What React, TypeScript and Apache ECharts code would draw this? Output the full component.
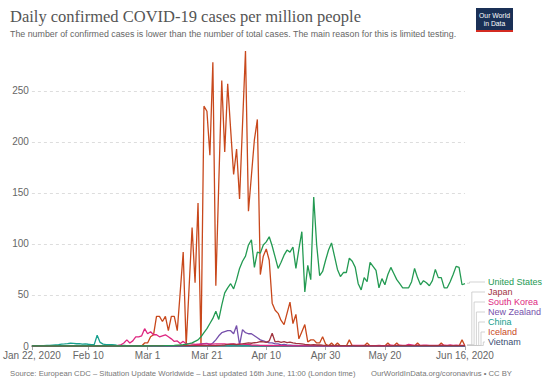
import React, { useEffect, useRef } from "react";
import * as echarts from "echarts";

// ---- axis / tick data ----
const startYear = 2020;
const dayCount = 147; // Jan 22 .. Jun 16, 2020
const tickIndex = [0, 19, 39, 59, 79, 99, 119, 146];
const tickLabels = ["Jan 22, 2020", "Feb 10", "Mar 1", "Mar 21", "Apr 10", "Apr 30", "May 20", "Jun 16, 2020"];
const yMax = 290;
const yInterval = 50;

// ---- series (daily confirmed cases per million), one value per day from Jan 22 ----
const countries = ["United States", "Japan", "South Korea", "New Zealand", "China", "Iceland", "Vietnam"];
const countryColors = ["#239a52", "#a1343f", "#de2680", "#7650ab", "#16a08e", "#c8481c", "#3c4d70"];

const unitedStates = [
  0, 0, 0, 0, 0, 0, 0, 0, 0, 0,
  0, 0, 0, 0, 0, 0, 0, 0, 0, 0,
  0, 0, 0, 0, 0, 0, 0, 0, 0, 0,
  0, 0, 0, 0, 0, 0, 0, 0, 0, 0,
  0.1, 0.1, 0.1, 0.2, 0.2, 0.3, 0.3, 0.4, 0.6, 0.9,
  1.0, 1.3, 1.7, 2.3, 3.0, 4.5, 6, 9, 13, 17,
  22, 27, 34, 26, 40, 52, 57, 61, 56, 65,
  76, 83, 88, 99, 104, 77, 92, 91, 99, 102,
  107, 98, 87, 76, 82, 89, 94, 92, 97, 76,
  95, 112, 53, 79, 65, 146, 99, 69, 73, 84,
  94, 101, 88, 75, 68, 72, 72, 86, 83, 77,
  61, 55, 67, 63, 82, 78, 74, 57, 66, 60,
  70, 77, 71, 65, 61, 57, 57, 57, 63, 76,
  67, 60, 64, 62, 59, 64, 75, 67, 67, 57,
  57, 63, 70, 78, 77, 60, 61,
];

const japan = [
  0, 0, 0, 0, 0, 0, 0, 0, 0, 0,
  0, 0, 0, 0, 0, 0, 0, 0, 0, 0,
  0, 0, 0.01, 0.01, 0.02, 0.01, 0.02, 0.03, 0.05, 0.1,
  0.1, 0.1, 0.1, 0.1, 0.1, 0.15, 0.2, 0.15, 0.2, 0.1,
  0.1, 0.3, 0.3, 0.2, 0.3, 0.4, 0.3, 0.4, 0.4, 0.3,
  0.5, 0.4, 0.5, 0.3, 0.5, 0.3, 0.4, 0.3, 0.5, 0.3,
  0.3, 0.4, 0.5, 0.7, 0.8, 1.0, 1.5, 1.6, 1.7, 1.4,
  1.8, 2.0, 2.6, 3.0, 2.7, 3.2, 3.6, 4.4, 4.0, 3.6,
  5.0, 12.5, 4.0, 4.5, 3.5, 4.3, 3.3, 3.7, 3.0, 2.5,
  2.3, 2.0, 1.5, 1.4, 1.2, 1.4, 1.0, 1.1, 0.8, 0.7,
  0.6, 0.5, 0.4, 0.5, 0.3, 0.3, 0.4, 0.3, 0.3, 0.2,
  0.2, 0.2, 0.3, 0.2, 0.1, 0.2, 0.1, 0.2, 0.1, 0.1,
  0.2, 0.2, 0.3, 0.3, 0.3, 0.4, 0.3, 0.4, 0.3, 0.3,
  0.3, 0.4, 0.4, 0.3, 0.3, 0.3, 0.3, 0.4, 0.3, 0.4,
  0.4, 0.3, 0.4, 0.4, 0.3, 0.3, 0.4,
];

const southKorea = [
  0, 0, 0, 0, 0, 0, 0, 0, 0, 0,
  0, 0, 0, 0, 0, 0, 0, 0, 0, 0,
  0, 0, 0, 0, 0, 0, 0, 0, 0.2, 0.6,
  1.2, 3, 6, 3, 5, 9, 9, 10, 17, 12,
  14, 11, 11, 9, 10, 11, 9, 7, 4.5, 5,
  2.5, 4.5, 2.2, 2, 2, 1.5, 1.8, 1.7, 2, 2,
  2, 1.9, 2, 2, 2.1, 2, 1.5, 2, 2, 1.5,
  1.8, 1.9, 1.6, 1.5, 1.0, 0.9, 0.8, 0.7, 0.6, 0.5,
  0.6, 0.5, 0.4, 0.5, 0.3, 0.4, 0.2, 0.2, 0.2, 0.2,
  0.2, 0.2, 0.1, 0.2, 0.2, 0.2, 0.2, 0.1, 0.1, 0.1,
  0.1, 0.1, 0.2, 0.1, 0.1, 0.1, 0.1, 0.1, 0.7, 0.6,
  0.5, 0.7, 0.6, 0.3, 0.3, 0.4, 0.4, 0.5, 0.4, 0.3,
  0.6, 0.8, 0.6, 0.7, 0.8, 0.6, 0.7, 1.5, 1.2, 0.7,
  0.8, 0.7, 0.8, 0.9, 0.7, 0.6, 0.7, 0.7, 0.8, 0.8,
  0.6, 1.0, 0.7, 0.8, 0.7, 0.7, 0.7,
];

const newZealand = [
  0, 0, 0, 0, 0, 0, 0, 0, 0, 0,
  0, 0, 0, 0, 0, 0, 0, 0, 0, 0,
  0, 0, 0, 0, 0, 0, 0, 0, 0, 0,
  0, 0, 0, 0, 0, 0, 0, 0, 0.2, 0,
  0, 0, 0.2, 0, 0, 0, 0, 0, 0, 0.2,
  0, 0.2, 0.4, 0, 0.6, 0.8, 1.2, 2, 2.4, 2.5,
  1, 3, 6, 10, 13, 14, 15, 15, 12, 20,
  1, 16, 13, 12, 12, 10, 8, 6, 5, 4,
  3, 3, 2, 2, 1, 1.5, 1, 0.8, 0.5, 0.6,
  0.4, 0.6, 0.2, 0.1, 0.2, 0.1, 0.1, 0.2, 0, 0,
  0, 0.2, 0, 0, 0, 0, 0, 0, 0, 0,
  0, 0, 0, 0, 0, 0, 0, 0, 0, 0,
  0, 0, 0, 0, 0, 0, 0, 0, 0, 0,
  0, 0, 0, 0, 0, 0, 0, 0, 0, 0,
  0, 0, 0, 0, 0, 0, 0,
];

const china = [
  0.1, 0.1, 0.1, 0.2, 0.3, 0.5, 0.7, 0.9, 1.1, 1.3,
  1.8, 2.0, 2.25, 2.7, 2.6, 2.2, 2.4, 1.8, 2.1, 1.7,
  1.4, 1.3, 10.5, 3.5, 1.8, 1.4, 1.4, 1.3, 1.2, 0.3,
  0.6, 0.6, 0.45, 0.3, 0.3, 0.3, 0.3, 0.15, 0.3, 0.2,
  0.15, 0.15, 0.1, 0.08, 0.1, 0.1, 0.05, 0.03, 0.03, 0.02,
  0.02, 0.01, 0.01, 0.02, 0.02, 0.02, 0.03, 0.03, 0.04, 0.05,
  0.05, 0.06, 0.04, 0.05, 0.06, 0.04, 0.03, 0.02, 0.04, 0.04,
  0.03, 0.02, 0.03, 0.04, 0.03, 0.02, 0.05, 0.06, 0.07, 0.08,
  0.07, 0.05, 0.06, 0.06, 0.03, 0.02, 0.02, 0.02, 0.02, 0.01,
  0.01, 0.01, 0.01, 0.01, 0.01, 0.01, 0.01, 0.01, 0.01, 0.01,
  0.01, 0.01, 0.01, 0.01, 0.01, 0.01, 0.02, 0.01, 0.01, 0.01,
  0.01, 0.01, 0.01, 0.01, 0, 0, 0.01, 0, 0, 0.01,
  0, 0.01, 0, 0, 0, 0, 0, 0, 0, 0,
  0, 0, 0, 0, 0, 0.03, 0.03, 0.02, 0.02, 0.02,
  0.02, 0.01, 0.01, 0.01, 0.01, 0.01, 0.01,
];

const iceland = [
  0, 0, 0, 0, 0, 0, 0, 0, 0, 0,
  0, 0, 0, 0, 0, 0, 0, 0, 0, 0,
  0, 0, 0, 0, 0, 0, 0, 0, 0, 0,
  0, 0, 0, 0, 0, 0, 0, 0, 3, 3,
  9, 11, 29, 29, 24, 29, 15, 29, 29, 15,
  53, 92, 0, 58, 116, 62, 140, 0, 235, 230,
  187, 278, 59, 160, 260, 190, 257, 212, 168, 193,
  144, 217, 289, 132, 167, 202, 222, 70, 88, 95,
  84, 42, 35, 32, 25, 21, 32, 43, 22, 31,
  7, 14, 21, 4, 6, 6, 3, 3, 9, 2,
  0, 3, 0, 3, 0, 0, 0, 6, 0, 0,
  0, 0, 0, 3, 0, 0, 0, 0, 0, 0,
  3, 0, 0, 3, 0, 0, 0, 0, 0, 0,
  3, 0, 0, 0, 0, 0, 0, 0, 3, 0,
  0, 0, 0, 0, 0, 6, 0,
];

const vietnam = [
  0, 0, 0, 0, 0, 0, 0, 0, 0, 0,
  0, 0, 0, 0, 0, 0, 0, 0, 0, 0,
  0, 0, 0, 0, 0, 0, 0, 0, 0, 0,
  0, 0, 0, 0, 0, 0, 0, 0, 0, 0,
  0, 0, 0, 0, 0, 0, 0, 0, 0, 0,
  0, 0, 0, 0, 0, 0, 0.1, 0.2, 0.1, 0.2,
  0.1, 0.3, 0.2, 0.2, 0.1, 0.2, 0.2, 0.1, 0.1, 0.1,
  0.1, 0.05, 0.05, 0.05, 0.02, 0.02, 0, 0, 0, 0,
  0, 0, 0, 0, 0, 0, 0, 0, 0, 0,
  0, 0, 0, 0, 0, 0, 0, 0, 0, 0,
  0, 0, 0, 0, 0, 0, 0, 0, 0, 0,
  0, 0, 0, 0, 0, 0, 0, 0, 0, 0,
  0, 0, 0, 0, 0, 0, 0, 0, 0, 0,
  0, 0, 0, 0, 0, 0, 0, 0, 0, 0,
  0, 0, 0, 0, 0, 0, 0,
];

const seriesValues = [unitedStates, japan, southKorea, newZealand, china, iceland, vietnam];

const titleText = "Daily confirmed COVID-19 cases per million people";
const subtitleText =
  "The number of confirmed cases is lower than the number of total cases. The main reason for this is limited testing.";
const sourceText =
  "Source: European CDC – Situation Update Worldwide – Last updated 16th June, 11:00 (London time)";
const creditText = "OurWorldInData.org/coronavirus • CC BY";

const SANS = "'Liberation Sans', Arial, sans-serif";
const SERIF = "'Liberation Serif', 'Times New Roman', serif";

function buildDates(): string[] {
  const out: string[] = [];
  for (let i = 0; i < dayCount; i++) {
    const d = new Date(Date.UTC(startYear, 0, 22 + i));
    out.push(d.toISOString().slice(0, 10));
  }
  return out;
}

export default function App() {
  const ref = useRef<HTMLDivElement>(null);

  useEffect(() => {
    document.body.style.margin = "0";
    if (!ref.current) return;
    const chart = echarts.init(ref.current, undefined, { renderer: "svg" });
    const dates = buildDates();

    const staticGraphics: any[] = [
      {
        type: "text",
        left: 10,
        top: 8,
        style: { text: titleText, font: `16.5px ${SERIF}`, fill: "#555" },
      },
      {
        type: "text",
        left: 10,
        top: 29,
        style: { text: subtitleText, font: `8.85px ${SANS}`, fill: "#666" },
      },
      {
        type: "group",
        left: 476,
        top: 8,
        children: [
          { type: "rect", shape: { x: 0, y: 0, width: 37, height: 24 }, style: { fill: "#1a3056" } },
          { type: "rect", shape: { x: 0, y: 22, width: 37, height: 2 }, style: { fill: "#d42b21" } },
          {
            type: "text",
            x: 18.5,
            y: 7,
            style: { text: "Our World", font: `6.8px ${SANS}`, fill: "#fff", align: "center", verticalAlign: "middle" },
          },
          {
            type: "text",
            x: 18.5,
            y: 15,
            style: { text: "in Data", font: `6.8px ${SANS}`, fill: "#fff", align: "center", verticalAlign: "middle" },
          },
        ],
      },
      {
        type: "text",
        left: 10,
        top: 369,
        style: { text: sourceText, font: `7.7px ${SANS}`, fill: "#777" },
      },
      {
        type: "text",
        right: 38,
        top: 369,
        style: { text: creditText, font: `7.7px ${SANS}`, fill: "#777" },
      },
    ];

    const option: any = {
      animation: false,
      backgroundColor: "#fff",
      grid: { left: 30, right: 85, top: 50, bottom: 42, containLabel: false },
      xAxis: {
        type: "category",
        data: dates,
        boundaryGap: false,
        axisLine: { lineStyle: { color: "#aaa", width: 1 } },
        axisTick: {
          show: true,
          interval: (i: number) => tickIndex.includes(i),
          length: 4,
          lineStyle: { color: "#aaa" },
        },
        axisLabel: {
          interval: (i: number) => tickIndex.includes(i),
          formatter: (_v: string, i: number) => {
            const k = tickIndex.indexOf(i);
            return k >= 0 ? tickLabels[k] : "";
          },
          color: "#666",
          fontSize: 10,
          fontFamily: SANS,
          margin: 4,
        },
        splitLine: { show: false },
      },
      yAxis: {
        type: "value",
        min: 0,
        max: yMax,
        interval: yInterval,
        axisLine: { show: false },
        axisTick: { show: false },
        axisLabel: {
          color: "#666",
          fontSize: 10,
          fontFamily: SANS,
          margin: 3,
          showMaxLabel: false,
          formatter: (v: number) => (v % yInterval === 0 ? String(v) : ""),
        },
        splitLine: {
          show: true,
          showMaxLine: false,
          lineStyle: { color: "#ddd", type: [3, 3], width: 1 },
        },
      },
      series: countries
        .map((name, i) => ({
          name,
          type: "line",
          data: seriesValues[i],
          showSymbol: false,
          symbol: "none",
          lineStyle: { color: countryColors[i], width: 1.3 },
          itemStyle: { color: countryColors[i] },
          z: 2 + (countries.length - i),
        }))
        .reverse(),
      graphic: staticGraphics,
    };

    chart.setOption(option);

    // end-of-line labels with connectors, placed from the library's own scale
    const lastIdx = dayCount - 1;
    const ends = seriesValues.map((arr) => chart.convertToPixel({ gridIndex: 0 }, [lastIdx, arr[lastIdx]]) as number[]);
    const bottomLimit = 342;
    const labelY: number[] = [];
    let prev = Infinity;
    for (let i = countries.length - 1; i >= 0; i--) {
      const y = Math.min(ends[i][1] - 1.5, prev - 10, bottomLimit);
      labelY[i] = y;
      prev = y;
    }
    const labelX = ends[0][0] + 23;
    const legendGraphics: any[] = [];
    countries.forEach((name, i) => {
      const [ex, ey] = ends[i];
      const elbow = ex + 4.5 + i * 2.3;
      legendGraphics.push({
        type: "polyline",
        shape: {
          points: [
            [ex + 2, ey - 0.5],
            [elbow, ey - 0.5],
            [elbow, labelY[i]],
            [labelX - 3, labelY[i]],
          ],
        },
        style: { stroke: "#c8c8c8", lineWidth: 0.8, fill: "none" },
        silent: true,
      });
      legendGraphics.push({
        type: "text",
        x: labelX,
        y: labelY[i],
        style: {
          text: name,
          font: `9px ${SANS}`,
          fill: countryColors[i],
          verticalAlign: "middle",
          align: "left",
        },
      });
    });

    chart.setOption({ graphic: [...staticGraphics, ...legendGraphics] }, { replaceMerge: ["graphic"] });

    return () => chart.dispose();
  }, []);

  return <div ref={ref} style={{ width: 550, height: 388 }} />;
}
